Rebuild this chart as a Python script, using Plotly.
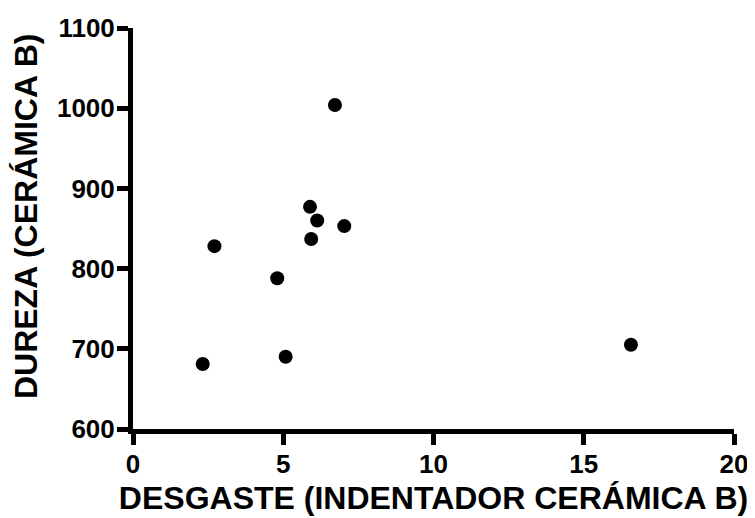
import plotly.graph_objects as go

desgaste = [6.72, 5.89, 6.13, 5.93, 7.03, 2.71, 4.80, 5.08, 2.32, 16.57]
dureza = [1004, 877, 860, 837, 853, 828, 788, 690, 681, 705]

x_ticks = [0, 5, 10, 15, 20]
y_ticks = [600, 700, 800, 900, 1000, 1100]

x_title = "DESGASTE (INDENTADOR CERÁMICA B)"
y_title = "DUREZA (CERÁMICA B)"

FONT = "Liberation Sans, Arial, sans-serif"

fig = go.Figure(go.Scatter(
    x=desgaste, y=dureza, mode="markers",
    marker=dict(size=14, color="black", line=dict(width=0)),
    cliponaxis=False, showlegend=False,
))

fig.update_layout(
    width=747, height=510,
    margin=dict(l=125, r=21, t=20, b=89),
    plot_bgcolor="white", paper_bgcolor="white",
    font=dict(family=FONT, color="black", weight="bold"),
)

fig.update_xaxes(
    range=[0, 20], tickvals=x_ticks, ticks="outside", ticklen=11, tickwidth=5,
    tickcolor="black", showline=True, linewidth=5, linecolor="black",
    showgrid=False, zeroline=False, automargin=False, ticklabelstandoff=-3,
    tickfont=dict(size=26, family=FONT, weight="bold"),
    title=dict(text=x_title,
               font=dict(size=32, family=FONT, weight="bold"), standoff=10),
)
fig.update_yaxes(
    range=[600, 1100], tickvals=y_ticks, ticks="outside", ticklen=11, tickwidth=5,
    tickcolor="black", showline=True, linewidth=5, linecolor="black",
    showgrid=False, zeroline=False, automargin=False, ticklabelstandoff=-3,
    tickfont=dict(size=26, family=FONT, weight="bold"),
)

fig.add_annotation(
    text=y_title, xref="paper", yref="paper", x=-0.178, y=0.531,
    xanchor="center", yanchor="middle", textangle=-90, showarrow=False,
    font=dict(size=32, family=FONT, weight="bold", color="black"),
)

fig.write_html("out.html")
